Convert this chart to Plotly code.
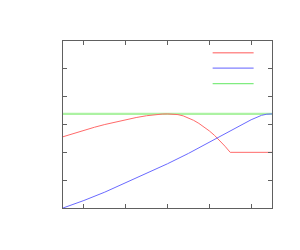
import plotly.graph_objects as go

# data (x normalized 0..1, y in axis units 0..6)
red_x = [0.0, 0.05, 0.1, 0.15, 0.2, 0.25, 0.3, 0.35, 0.4, 0.425, 0.45, 0.475, 0.5, 0.525, 0.55, 0.575,
         0.6, 0.625, 0.65, 0.675, 0.7, 0.725, 0.75, 0.775, 0.8, 1.0]
red_y = [2.56, 2.68, 2.79, 2.90, 3.00, 3.09, 3.17, 3.25, 3.315, 3.34, 3.36, 3.375, 3.38, 3.375, 3.355, 3.31,
         3.24, 3.15, 3.04, 2.91, 2.77, 2.61, 2.42, 2.22, 2.00, 2.00]

blue_x = [0.0, 0.1, 0.2, 0.3, 0.4, 0.5, 0.6, 0.7, 0.75, 0.8, 0.85, 0.9, 0.95, 0.975, 1.0]
blue_y = [0.0, 0.27, 0.57, 0.91, 1.25, 1.59, 1.96, 2.36, 2.56, 2.77, 2.98, 3.17, 3.33, 3.37, 3.38]

green_x = [0.0, 1.0]
green_y = [3.38, 3.38]

x_ticks = [0.1, 0.3, 0.5, 0.7, 0.9]
y_ticks = [1, 2, 3, 4, 5]

fig = go.Figure()
fig.add_trace(go.Scatter(x=green_x, y=green_y, mode="lines",
                         line=dict(color="#acf2a2", width=2.2), showlegend=False))
fig.add_trace(go.Scatter(x=red_x, y=red_y, mode="lines",
                         line=dict(color="#ff6a6a", width=1), showlegend=False))
fig.add_trace(go.Scatter(x=blue_x, y=blue_y, mode="lines",
                         line=dict(color="#6a6aff", width=1), showlegend=False))

# legend sample lines (no text)
for yy, col, w in [(0.93, "#ff9090", 1.6), (0.837, "#8080ff", 1.2), (0.745, "#80ec80", 1.4)]:
    fig.add_shape(type="line", xref="paper", yref="paper", x0=0.716, x1=0.912, y0=yy, y1=yy,
                  line=dict(color=col, width=w))

axis_common = dict(showgrid=False, zeroline=False, showticklabels=False, ticks="inside",
                   ticklen=4, tickcolor="#606060", showline=True, linecolor="#606060",
                   linewidth=1.2, mirror="ticks")
fig.update_xaxes(range=[0, 1], tickvals=x_ticks, **axis_common)
fig.update_yaxes(range=[0, 6], tickvals=y_ticks, **axis_common)
fig.update_layout(width=292, height=242, margin=dict(l=55, r=28, t=33, b=42),
                  plot_bgcolor="white", paper_bgcolor="white")
fig.write_html("out.html")
